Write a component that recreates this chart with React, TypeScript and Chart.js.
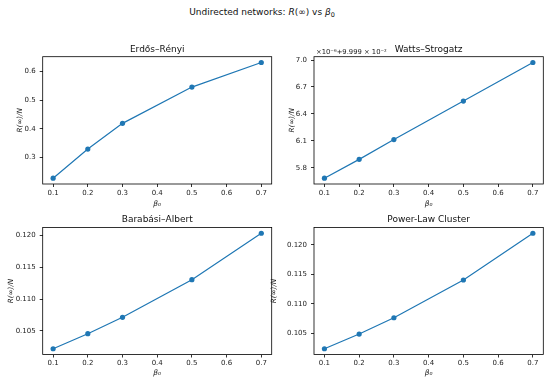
import React, { useEffect, useRef } from "react";
import { Chart, registerables } from "chart.js";
Chart.register(...registerables);

// ---- data ----
const BETA = [0.1, 0.2, 0.3, 0.5, 0.7];
const X_TICKS = [0.1, 0.2, 0.3, 0.4, 0.5, 0.6, 0.7];

const ER_Y = [0.227, 0.329, 0.419, 0.546, 0.632];
const ER_TICKS = [0.3, 0.4, 0.5, 0.6];

const WS_Y = [0.099995683, 0.099995893, 0.099996114, 0.099996543, 0.099996973];
const WS_OFFSET = 0.09999;
const WS_SCALE = 1e-6;
const WS_TICK_LABELS = [5.8, 6.1, 6.4, 6.7, 7.0];

const BA_Y = [0.10216, 0.10453, 0.10712, 0.11305, 0.12038];
const BA_TICKS = [0.105, 0.11, 0.115, 0.12];

const PLC_Y = [0.10239, 0.10488, 0.10765, 0.11405, 0.12198];
const PLC_TICKS = [0.105, 0.11, 0.115, 0.12];

const TITLES = ["Erdős–Rényi", "Watts–Strogatz", "Barabási–Albert", "Power-Law Cluster"];
const SUPTITLE = "Undirected networks: ";
const Y_LABEL = "R(∞)/N";
const X_LABEL = "β₀";
const WS_OFFSET_TEXT = "×10⁻⁶+9.999 × 10⁻²";

const W = 550;
const H = 386;
const FONT = '"DejaVu Sans", sans-serif';
const BLUE = "#1f77b4";

type Panel = {
  title: string;
  ys: number[];
  yTicks: number[];
  fmt: (v: number) => string;
  box: { l: number; t: number; r: number; b: number };
  yTitleX: number;
  xTitleY: number;
  titleY: number;
  offsetText?: string;
};

const PANELS: Panel[] = [
  {
    title: TITLES[0],
    ys: ER_Y,
    yTicks: ER_TICKS,
    fmt: (v) => v.toFixed(1),
    box: { l: 42.7, t: 56.7, r: 271.7, b: 184 },
    yTitleX: 20.5,
    xTitleY: 204,
    titleY: 49.5,
  },
  {
    title: TITLES[1],
    ys: WS_Y,
    yTicks: WS_TICK_LABELS.map((t) => WS_OFFSET + t * WS_SCALE),
    fmt: (v) => ((v - WS_OFFSET) / WS_SCALE).toFixed(1),
    box: { l: 314, t: 56.7, r: 543.3, b: 184 },
    yTitleX: 292.5,
    xTitleY: 204,
    titleY: 50,
    offsetText: WS_OFFSET_TEXT,
  },
  {
    title: TITLES[2],
    ys: BA_Y,
    yTicks: BA_TICKS,
    fmt: (v) => v.toFixed(3),
    box: { l: 42.7, t: 227.5, r: 271.7, b: 354.5 },
    yTitleX: 11.5,
    xTitleY: 373.3,
    titleY: 220,
  },
  {
    title: TITLES[3],
    ys: PLC_Y,
    yTicks: PLC_TICKS,
    fmt: (v) => v.toFixed(3),
    box: { l: 314, t: 227.5, r: 543.3, b: 354.5 },
    yTitleX: 274.5,
    xTitleY: 373.3,
    titleY: 220,
  },
];

const framePlugin = {
  id: "frame",
  afterDatasetsDraw(chart: any) {
    const { ctx, chartArea } = chart;
    const { left, top, right, bottom } = chartArea;
    ctx.save();
    ctx.strokeStyle = "#000";
    ctx.lineWidth = 0.8;
    ctx.strokeRect(left, top, right - left, bottom - top);
    ctx.restore();
  },
};

const offsetTextPlugin = {
  id: "offsetText",
  afterDraw(chart: any, _args: any, opts: any) {
    if (!opts || !opts.text) return;
    const { ctx, chartArea } = chart;
    ctx.save();
    ctx.fillStyle = "#222";
    ctx.font = `6.8px ${FONT}`;
    ctx.textAlign = "left";
    ctx.textBaseline = "alphabetic";
    ctx.fillText(opts.text, chartArea.left + 2, chartArea.top - 3);
    ctx.restore();
  },
};

function PanelChart({ p }: { p: Panel }) {
  const ref = useRef<HTMLCanvasElement | null>(null);
  useEffect(() => {
    if (!ref.current) return;
    const lo = Math.min(...p.ys);
    const hi = Math.max(...p.ys);
    const m = (hi - lo) * 0.05;
    const xlo = Math.min(...BETA);
    const xhi = Math.max(...BETA);
    const xm = (xhi - xlo) * 0.05;

    const yTitleSize = 7.2;
    const yTitleLH = yTitleSize * 1.2;
    const padLeft = p.yTitleX - yTitleLH / 2;
    const yWidth = p.box.l - padLeft;

    const xTitleSize = 7.5;
    const xTitleLH = xTitleSize * 1.2;
    const xHeight = p.xTitleY - p.box.b + xTitleLH / 2;
    const padBottom = H - p.box.b - xHeight;

    const titleSize = 9;
    const titleLH = titleSize * 1.2;
    const padTop = p.titleY - titleLH / 2;
    const titlePadBottom = p.box.t - padTop - titleLH;

    const tickFont = { family: FONT, size: 7 };

    const chart = new Chart(ref.current, {
      type: "line",
      data: {
        datasets: [
          {
            data: BETA.map((x, i) => ({ x, y: p.ys[i] })),
            borderColor: BLUE,
            backgroundColor: BLUE,
            borderWidth: 1.2,
            pointRadius: 2.6,
            pointBorderWidth: 0,
            pointBackgroundColor: BLUE,
            tension: 0,
            fill: false,
          },
        ],
      },
      options: {
        responsive: false,
        animation: false,
        devicePixelRatio: 1,
        layout: {
          padding: { left: padLeft, top: padTop, right: W - p.box.r, bottom: padBottom },
        },
        plugins: {
          legend: { display: false },
          tooltip: { enabled: false },
          title: {
            display: true,
            text: p.title,
            fullSize: false,
            color: "#111",
            font: { family: FONT, size: titleSize, weight: "normal", lineHeight: 1.2 },
            padding: { top: 0, bottom: titlePadBottom },
          },
          offsetText: { text: p.offsetText || "" },
        } as any,
        scales: {
          x: {
            type: "linear",
            min: xlo - xm,
            max: xhi + xm,
            afterBuildTicks: (s: any) => {
              s.ticks = X_TICKS.map((v) => ({ value: v }));
            },
            afterFit: (s: any) => {
              s.height = xHeight;
            },
            grid: {
              display: true,
              drawOnChartArea: false,
              drawTicks: true,
              tickLength: 3,
              tickColor: "#000",
              tickWidth: 0.8,
            },
            border: { display: false },
            ticks: {
              autoSkip: false,
              maxRotation: 0,
              padding: 1.5,
              color: "#222",
              font: tickFont,
              callback: (v: any) => Number(v).toFixed(1),
            },
            title: {
              display: true,
              text: X_LABEL,
              color: "#222",
              padding: 0,
              font: { family: FONT, size: xTitleSize, style: "italic", lineHeight: 1.2 },
            },
          },
          y: {
            type: "linear",
            min: lo - m,
            max: hi + m,
            afterBuildTicks: (s: any) => {
              s.ticks = p.yTicks.map((v) => ({ value: v }));
            },
            afterFit: (s: any) => {
              s.width = yWidth;
            },
            grid: {
              display: true,
              drawOnChartArea: false,
              drawTicks: true,
              tickLength: 3,
              tickColor: "#000",
              tickWidth: 0.8,
            },
            border: { display: false },
            ticks: {
              autoSkip: false,
              padding: 4,
              color: "#222",
              font: tickFont,
              callback: (v: any) => p.fmt(Number(v)),
            },
            title: {
              display: true,
              text: Y_LABEL,
              color: "#222",
              padding: 0,
              font: { family: FONT, size: yTitleSize, style: "italic", lineHeight: 1.2 },
            },
          },
        },
      },
      plugins: [framePlugin, offsetTextPlugin],
    } as any);
    return () => chart.destroy();
  }, [p]);
  return (
    <canvas
      ref={ref}
      width={W}
      height={H}
      style={{ position: "absolute", left: 0, top: 0, width: W, height: H }}
    />
  );
}

export default function App() {
  return (
    <div
      style={{
        position: "absolute",
        left: 0,
        top: 0,
        width: W,
        height: H,
        background: "#fff",
        overflow: "hidden",
      }}
    >
      <div
        style={{
          position: "absolute",
          left: 0,
          top: 6,
          width: 524,
          textAlign: "center",
          fontFamily: FONT,
          fontSize: 9,
          lineHeight: "12px",
          color: "#111",
          whiteSpace: "nowrap",
        }}
      >
        {SUPTITLE}
        <i>R</i>(∞) vs <i>β</i>
        <span style={{ fontSize: 6.5, position: "relative", top: 2 }}>0</span>
      </div>
      {PANELS.map((p, i) => (
        <PanelChart key={i} p={p} />
      ))}
    </div>
  );
}
